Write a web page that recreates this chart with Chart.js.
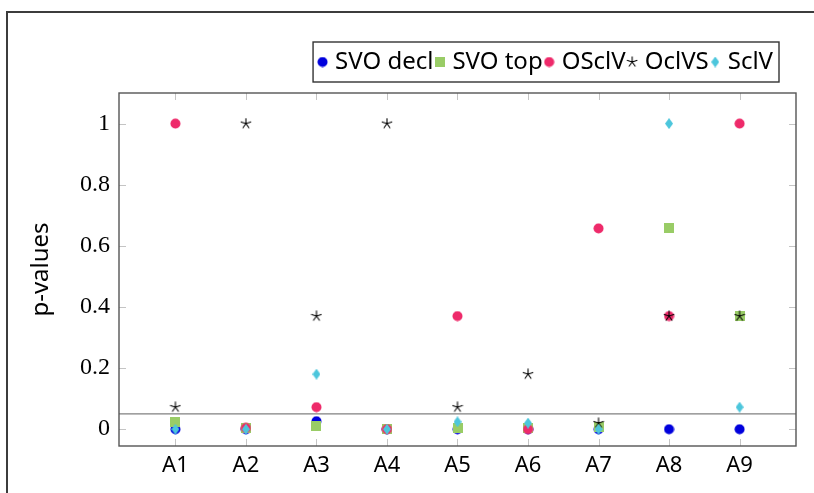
<!DOCTYPE html>
<html>
<head>
<meta charset="utf-8">
<script src="https://cdn.jsdelivr.net/npm/chart.js@4.4.1/dist/chart.umd.min.js"></script>
<style>
  html, body { margin: 0; padding: 0; background: #fff; overflow: hidden; }
  #frame { position: absolute; left: 6px; top: 11px; width: 1000px; height: 1000px; border: 2px solid #3c3c3c; box-sizing: border-box; }
  #wrap { position: absolute; left: 0; top: 0; width: 814px; height: 493px; }
</style>
</head>
<body>
<div id="frame"></div>
<div id="wrap"><canvas id="chart"></canvas></div>
<script>
// categories and tick labels
const categories = ['A1', 'A2', 'A3', 'A4', 'A5', 'A6', 'A7', 'A8', 'A9'];
const yTicks = [0, 0.2, 0.4, 0.6, 0.8, 1];
const yTickLabels = ['0', '0.2', '0.4', '0.6', '0.8', '1'];
const threshold = 0.05;

// p-values per series
const svoDecl = [0, 0, 0.026, 0, 0, 0, 0, 0, 0];
const svoTop  = [0.024, 0.003, 0.01, 0, 0.005, 0.003, 0.008, 0.657, 0.37];
const osclv   = [1, 0.004, 0.072, 0, 0.37, 0, 0.657, 0.37, 1];
const oclvs   = [0.072, 1, 0.37, 1, 0.072, 0.18, 0.02, 0.37, 0.37];
const sclv    = [0, 0, 0.18, 0, 0.024, 0.02, 0, 1, 0.072];

// marker images, pgfplots-like
function makeMarker(kind, color) {
    const c = document.createElement('canvas');
    const g = c.getContext('2d');
    if (kind === 'circle') {
        c.width = c.height = 11;
        g.fillStyle = color;
        g.beginPath();
        g.arc(5.5, 5.5, 5, 0, 2 * Math.PI);
        g.fill();
    } else if (kind === 'square') {
        c.width = c.height = 10;
        g.fillStyle = color;
        g.fillRect(0, 0, 10, 10);
    } else if (kind === 'star') {
        c.width = c.height = 12;
        g.strokeStyle = color;
        g.lineWidth = 1.1;
        g.beginPath();
        for (let k = 0; k < 5; k++) {
            const a = (-90 + k * 72) * Math.PI / 180;
            g.moveTo(6, 6);
            g.lineTo(6 + 5.5 * Math.cos(a), 6 + 5.5 * Math.sin(a));
        }
        g.stroke();
    } else if (kind === 'diamond') {
        c.width = 8; c.height = 11;
        g.fillStyle = color;
        g.beginPath();
        g.moveTo(4, 0); g.lineTo(8, 5.5); g.lineTo(4, 11); g.lineTo(0, 5.5);
        g.closePath();
        g.fill();
    }
    return c;
}

function pts(values) {
    return values.map((v, i) => ({ x: i + 1, y: v }));
}

// axis box, inner ticks and the 0.05 line
const axisBox = {
    id: 'axisBox',
    beforeDatasetsDraw(chart) {
        const { ctx, chartArea: a, scales: { x, y } } = chart;
        ctx.save();
        ctx.strokeStyle = '#c4c4c4';
        ctx.lineWidth = 1;
        ctx.beginPath();
        categories.forEach((c, i) => {
            const px = Math.round(x.getPixelForValue(i + 1)) + 0.5;
            ctx.moveTo(px, a.bottom); ctx.lineTo(px, a.bottom - 7);
            ctx.moveTo(px, a.top); ctx.lineTo(px, a.top + 7);
        });
        yTicks.forEach(v => {
            const py = Math.round(y.getPixelForValue(v)) + 0.5;
            ctx.moveTo(a.left, py); ctx.lineTo(a.left + 7, py);
            ctx.moveTo(a.right, py); ctx.lineTo(a.right - 7, py);
        });
        ctx.stroke();

        ctx.strokeStyle = '#808080';
        ctx.lineWidth = 1.3;
        ctx.beginPath();
        const ty = y.getPixelForValue(threshold);
        ctx.moveTo(a.left, ty); ctx.lineTo(a.right, ty);
        ctx.stroke();

        ctx.strokeStyle = '#555';
        ctx.lineWidth = 1.4;
        ctx.strokeRect(a.left, a.top, a.right - a.left, a.bottom - a.top);
        ctx.restore();
    }
};

// legend: extra space below, moved left, boxed
const legendFrame = {
    id: 'legendFrame',
    afterInit(chart) {
        const fit = chart.legend.fit;
        chart.legend.fit = function () {
            fit.call(this);
            this.height += 9;
        };
    },
    afterLayout(chart) {
        chart.legend.right -= 17;
    },
    afterDraw(chart) {
        const boxes = chart.legend.legendHitBoxes;
        if (!boxes || !boxes.length) return;
        const first = boxes[0], last = boxes[boxes.length - 1];
        const l = first.left - 9, r = last.left + last.width + 6;
        const t = first.top - 8, b = first.top + first.height + 8;
        const ctx = chart.ctx;
        ctx.save();
        ctx.strokeStyle = '#333';
        ctx.lineWidth = 1.4;
        ctx.strokeRect(l, t, r - l, b - t);
        ctx.restore();
    }
};

const ctx = document.getElementById('chart').getContext('2d');
new Chart(ctx, {
    type: 'scatter',
    data: {
        datasets: [
            { label: 'SVO decl', data: pts(svoDecl), pointStyle: makeMarker('circle', '#0000dd'), order: 5 },
            { label: 'SVO top', data: pts(svoTop), pointStyle: makeMarker('square', '#99cc66'), order: 4 },
            { label: 'OSclV', data: pts(osclv), pointStyle: makeMarker('circle', '#ee2a6a'), order: 3 },
            { label: 'OclVS', data: pts(oclvs), pointStyle: makeMarker('star', '#000000'), order: 2 },
            { label: 'SclV', data: pts(sclv), pointStyle: makeMarker('diamond', '#4cc6dc'), order: 1 }
        ]
    },
    options: {
        responsive: true,
        maintainAspectRatio: false,
        animation: false,
        elements: { point: { radius: 5, hoverRadius: 5 } },
        layout: { padding: { left: 14, right: 18, top: 44, bottom: 0 } },
        plugins: {
            tooltip: { enabled: false },
            legend: {
                position: 'top',
                align: 'end',
                labels: {
                    usePointStyle: true,
                    boxWidth: 1,
                    boxHeight: 10,
                    padding: 6,
                    color: '#000',
                    font: { family: 'Noto Sans', size: 24 },
                    sort: (a, b) => a.datasetIndex - b.datasetIndex
                }
            }
        },
        scales: {
            x: {
                type: 'linear',
                min: 0.2,
                max: 9.8,
                grid: { display: false, drawTicks: false },
                border: { display: false },
                afterBuildTicks: scale => { scale.ticks = categories.map((c, i) => ({ value: i + 1 })); },
                afterFit: scale => { scale.height = 47; },
                ticks: {
                    autoSkip: false,
                    maxRotation: 0,
                    padding: 7,
                    color: '#000',
                    font: { family: 'Noto Sans', size: 22 },
                    callback: (v, i) => categories[i]
                }
            },
            y: {
                min: -0.055,
                max: 1.1,
                grid: { display: false, drawTicks: false },
                border: { display: false },
                afterBuildTicks: scale => { scale.ticks = yTicks.map(v => ({ value: v })); },
                afterFit: scale => { scale.width = 105; },
                ticks: {
                    padding: 9,
                    color: '#000',
                    font: { family: 'Liberation Serif', size: 24 },
                    callback: (v, i) => yTickLabels[i]
                },
                title: {
                    display: true,
                    text: 'p-values',
                    color: '#000',
                    font: { family: 'Noto Sans', size: 24 },
                    padding: { top: 13, bottom: 13 }
                }
            }
        }
    },
    plugins: [axisBox, legendFrame]
});
</script>
</body>
</html>
